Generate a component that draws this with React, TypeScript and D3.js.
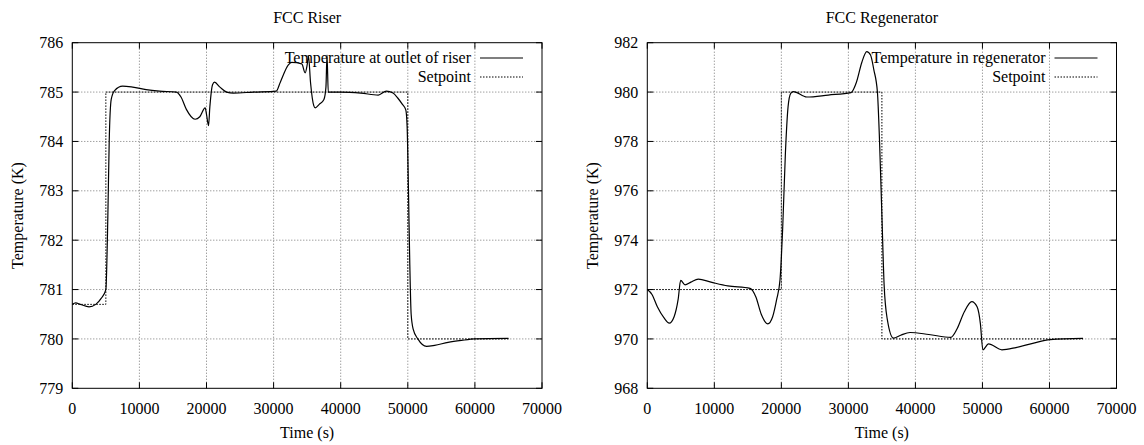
import React from "react";
import * as d3 from "d3";

const xTicks = [0, 10000, 20000, 30000, 40000, 50000, 60000, 70000];

// FCC Riser
const riserTitle = "FCC Riser";
const riserYTicks = [779, 780, 781, 782, 783, 784, 785, 786];
const riserTime = [0, 500, 1200, 2500, 3500, 4300, 5000, 5300, 5500, 5800, 6300, 7500, 9000, 11000, 13000, 15500, 16200, 17000, 18300, 19000, 19800, 20000, 20300, 20500, 20900, 21200, 22000, 23000, 24000, 27000, 30400, 31000, 32200, 32700, 34200, 34700, 35000, 35200, 35500, 36000, 36200, 36800, 37500, 37800, 37960, 38150, 38400, 40000, 43000, 45600, 46800, 47800, 48500, 49200, 49700, 49900, 50100, 50300, 50500, 50800, 51500, 52800, 54000, 56000, 58000, 60000, 65000];
const riserTemp = [780.70, 780.73, 780.70, 780.65, 780.70, 780.82, 781.0, 782.5, 784.0, 784.85, 785.03, 785.12, 785.10, 785.05, 785.02, 785.0, 784.9, 784.65, 784.45, 784.5, 784.68, 784.55, 784.32, 784.7, 785.15, 785.2, 785.1, 785.0, 784.98, 785.0, 785.02, 785.2, 785.55, 785.6, 785.57, 785.39, 785.55, 785.73, 785.2, 784.72, 784.68, 784.75, 784.85, 785.1, 785.75, 785.0, 785.0, 785.0, 784.98, 784.94, 785.02, 784.98, 784.88, 784.75, 784.64, 784.3, 783.0, 781.5, 780.5, 780.2, 780.0, 779.85, 779.87, 779.93, 779.97, 780.0, 780.01];
const riserSetTime = [0, 5000, 50000, 65000];
const riserSetTemp = [780.7, 785, 780, 780];

// FCC Regenerator
const regenTitle = "FCC Regenerator";
const regenYTicks = [968, 970, 972, 974, 976, 978, 980, 982];
const regenTime = [0, 700, 1500, 2500, 3280, 4000, 4600, 4980, 5630, 6500, 7610, 9500, 12000, 15330, 16200, 17000, 17970, 18700, 19300, 19800, 20200, 20600, 21000, 21400, 21800, 23800, 27000, 30400, 31200, 32000, 32740, 33300, 33800, 34330, 34650, 35000, 35330, 35800, 36720, 37800, 39200, 42000, 45280, 46200, 47300, 48410, 49200, 49700, 50060, 50900, 52900, 55000, 57500, 60100, 65000];
const regenTemp = [972.0, 971.8, 971.3, 970.85, 970.64, 970.9, 971.6, 972.37, 972.19, 972.3, 972.42, 972.3, 972.15, 972.05, 971.7, 971.0, 970.61, 970.9, 971.6, 972.4, 974.5, 977.5, 979.4, 979.95, 980.02, 979.8, 979.88, 979.98, 980.4, 981.2, 981.64, 981.5, 980.9, 980.0, 978.0, 975.0, 972.2, 970.8, 970.03, 970.15, 970.26, 970.18, 970.06, 970.4, 971.1, 971.51, 971.3, 970.6, 969.56, 969.8, 969.56, 969.65, 969.82, 969.97, 970.02];
const regenSetTime = [0, 20000, 35000, 65000];
const regenSetTemp = [972, 980, 970, 970];

const FONT = "'Liberation Serif', 'Times New Roman', serif";

type PanelProps = {
  left: number;
  right: number;
  top: number;
  bottom: number;
  title: string;
  yTicks: number[];
  time: number[];
  temp: number[];
  setTime: number[];
  setTemp: number[];
  legendLabel: string;
};

function Panel(p: PanelProps) {
  const x = d3.scaleLinear().domain([0, 70000]).range([p.left, p.right]);
  const y = d3
    .scaleLinear()
    .domain([p.yTicks[0], p.yTicks[p.yTicks.length - 1]])
    .range([p.bottom, p.top]);
  const pts: [number, number][] = p.time.map((t, i) => [t, p.temp[i]]);
  const line = d3
    .line<[number, number]>()
    .x((d) => x(d[0]))
    .y((d) => y(d[1]))
    .curve(d3.curveMonotoneX);
  const spPts: [number, number][] = p.setTime.map((t, i) => [t, p.setTemp[i]]);
  const spLine = d3
    .line<[number, number]>()
    .x((d) => x(d[0]))
    .y((d) => y(d[1]))
    .curve(d3.curveStepAfter);
  const tickLen = 6;
  const cx = (p.left + p.right) / 2;
  const legendEnd = p.right - 71;
  return (
    <g fontFamily={FONT} fontSize={16} fill="#000">
      <text x={cx} y={22.5} textAnchor="middle">
        {p.title}
      </text>
      {/* grid */}
      {xTicks.slice(1, -1).map((t) => (
        <line
          key={"gx" + t}
          x1={x(t)}
          x2={x(t)}
          y1={p.top}
          y2={p.bottom}
          stroke="#777"
          strokeWidth={1}
          strokeDasharray="1,2"
        />
      ))}
      {p.yTicks.slice(1, -1).map((v) => (
        <line
          key={"gy" + v}
          x1={p.left}
          x2={p.right}
          y1={y(v)}
          y2={y(v)}
          stroke="#777"
          strokeWidth={1}
          strokeDasharray="1,2"
        />
      ))}
      {/* ticks */}
      {xTicks.map((t) => (
        <g key={"tx" + t}>
          <line x1={x(t)} x2={x(t)} y1={p.bottom} y2={p.bottom - tickLen} stroke="#000" />
          <line x1={x(t)} x2={x(t)} y1={p.top} y2={p.top + tickLen} stroke="#000" />
          <text x={x(t)} y={413.5} textAnchor="middle">
            {t}
          </text>
        </g>
      ))}
      {p.yTicks.map((v) => (
        <g key={"ty" + v}>
          <line x1={p.left} x2={p.left + tickLen} y1={y(v)} y2={y(v)} stroke="#000" />
          <line x1={p.right} x2={p.right - tickLen} y1={y(v)} y2={y(v)} stroke="#000" />
          <text x={p.left - 9} y={y(v)} dy="0.35em" textAnchor="end">
            {v}
          </text>
        </g>
      ))}
      {/* setpoint */}
      <path d={spLine(spPts) || ""} fill="none" stroke="#000" strokeWidth={1} strokeDasharray="1.5,1.5" />
      {/* temperature */}
      <path d={line(pts) || ""} fill="none" stroke="#000" strokeWidth={1.2} />
      {/* border */}
      <rect
        x={p.left}
        y={p.top}
        width={p.right - p.left}
        height={p.bottom - p.top}
        fill="none"
        stroke="#000"
        strokeWidth={1}
      />
      {/* legend */}
      <text x={legendEnd} y={63} textAnchor="end">
        {p.legendLabel}
      </text>
      <line x1={legendEnd + 9} x2={legendEnd + 52} y1={58} y2={58} stroke="#000" strokeWidth={1.2} />
      <text x={legendEnd} y={82} textAnchor="end">
        Setpoint
      </text>
      <line
        x1={legendEnd + 9}
        x2={legendEnd + 52}
        y1={77}
        y2={77}
        stroke="#000"
        strokeWidth={1}
        strokeDasharray="1.5,1.5"
      />
      {/* axis labels */}
      <text x={cx} y={438} textAnchor="middle">
        Time (s)
      </text>
      <text
        transform={`translate(${p.left - 49},${(p.top + p.bottom) / 2}) rotate(-90)`}
        textAnchor="middle"
      >
        Temperature (K)
      </text>
    </g>
  );
}

export default function App() {
  return (
    <svg
      width={1144}
      height={445}
      style={{ position: "absolute", left: 0, top: 0, background: "#fff" }}
    >
      <rect width={1144} height={445} fill="#fff" />
      <Panel
        left={72.3}
        right={542}
        top={42.7}
        bottom={388.3}
        title={riserTitle}
        yTicks={riserYTicks}
        time={riserTime}
        temp={riserTemp}
        setTime={riserSetTime}
        setTemp={riserSetTemp}
        legendLabel="Temperature at outlet of riser"
      />
      <Panel
        left={647.3}
        right={1116.5}
        top={42.7}
        bottom={388.3}
        title={regenTitle}
        yTicks={regenYTicks}
        time={regenTime}
        temp={regenTemp}
        setTime={regenSetTime}
        setTemp={regenSetTemp}
        legendLabel="Temperature in regenerator"
      />
    </svg>
  );
}
